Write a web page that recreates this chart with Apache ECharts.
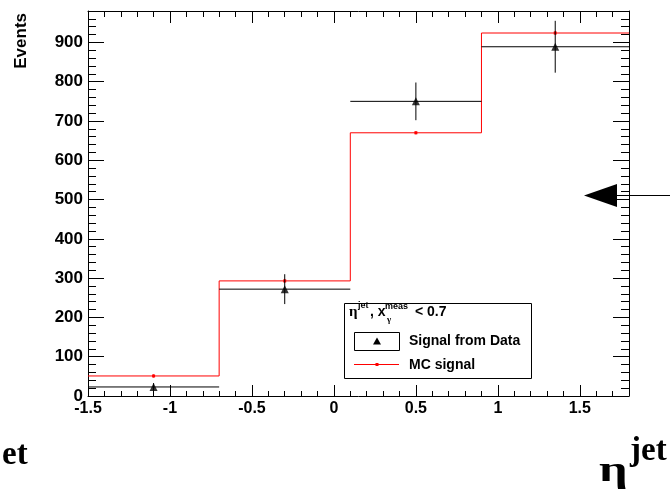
<!DOCTYPE html>
<html>
<head>
<meta charset="utf-8">
<script src="https://cdn.jsdelivr.net/npm/echarts@6/dist/echarts.min.js"></script>
<style>
html,body{margin:0;padding:0;background:#fff;}
#chart{width:670px;height:501px;}
</style>
</head>
<body>
<div id="chart"></div>
<script>
// ---- data ----
const binEdges = [-1.5, -0.7, 0.1, 0.9, 1.8];
const binCenters = [-1.1, -0.3, 0.5, 1.35];
const mcSignal = [51, 293, 670, 924];
const mcErr = [4, 5, 4, 5];
const dataSignal = [23, 272, 750, 889];
const dataErr = [10, 38, 48, 66];
const xTicks = [-1.5, -1, -0.5, 0, 0.5, 1, 1.5];
const yTicks = [0, 100, 200, 300, 400, 500, 600, 700, 800, 900];
const legendTitle = ['η', 'jet', ', x', 'meas', 'γ', '< 0.7'];
const legendLabels = ['Signal from Data', 'MC signal'];
const yTitle = 'Events';

// ---- build series data ----
const mcStep = binEdges.map((e, i) => [e, mcSignal[Math.min(i, mcSignal.length - 1)]]);
const mcPts = binCenters.map((c, i) => [c, mcSignal[i], mcErr[i]]);
const dataBars = binCenters.map((c, i) => [binEdges[i], binEdges[i + 1], dataSignal[i], dataErr[i], c]);
const dataPts = binCenters.map((c, i) => [c, dataSignal[i]]);

const chart = echarts.init(document.getElementById('chart'), null, {renderer: 'canvas'});
const labelFont = {color: '#000', fontWeight: 'bold', fontFamily: 'Liberation Sans, Arial, sans-serif'};

function axisCommon(extra) {
  return Object.assign({
    type: 'value',
    axisLine: {show: true, onZero: false, lineStyle: {color: '#000', width: 1}},
    splitLine: {show: false},
    minorSplitLine: {show: false}
  }, extra);
}

const sans = 'Liberation Sans, Arial, sans-serif';
const serif = 'Liberation Serif, Times New Roman, serif';
function txt(text, x, baseline, size, family, extra) {
  return Object.assign({
    type: 'text', z: 200,
    style: {text: text, x: x, y: baseline - 0.35 * size, font: 'bold ' + size + 'px ' + family,
      fill: '#000', textVerticalAlign: 'middle', textAlign: 'left'}
  }, extra || {});
}

const option = {
  animation: false,
  backgroundColor: '#fff',
  grid: {left: 88, right: 41, top: 11, bottom: 105, containLabel: false},
  xAxis: [
    axisCommon({
      position: 'bottom', min: -1.5, max: 1.8, interval: 0.5,
      axisTick: {show: true, inside: true, length: 11, lineStyle: {color: '#000'}},
      minorTick: {show: true, splitNumber: 5, length: 5, lineStyle: {color: '#000'}},
      axisLabel: Object.assign({fontSize: 16, margin: 5, showMaxLabel: false,
        formatter: v => (xTicks.indexOf(Math.round(v * 10) / 10) >= 0 ? String(Math.round(v * 10) / 10) : '')}, labelFont)
    }),
    axisCommon({
      position: 'top', min: -1.5, max: 1.8, interval: 0.5,
      axisTick: {show: true, inside: true, length: 12, lineStyle: {color: '#000'}},
      minorTick: {show: true, splitNumber: 5, length: 6, lineStyle: {color: '#000'}},
      axisLabel: {show: false}
    })
  ],
  yAxis: [
    axisCommon({
      position: 'left', min: 0, max: 980, interval: 100,
      axisTick: {show: true, inside: true, length: 16, lineStyle: {color: '#000'}},
      minorTick: {show: true, splitNumber: 5, length: 8, lineStyle: {color: '#000'}},
      axisLabel: Object.assign({fontSize: 17, margin: 5, showMaxLabel: false,
        formatter: v => (yTicks.indexOf(v) >= 0 ? String(v) : '')}, labelFont)
    }),
    axisCommon({
      position: 'right', min: 0, max: 980, interval: 100,
      axisTick: {show: true, inside: true, length: 16, lineStyle: {color: '#000'}},
      minorTick: {show: true, splitNumber: 5, length: 8, lineStyle: {color: '#000'}},
      axisLabel: {show: false}
    })
  ],
  series: [
    {
      type: 'line', name: legendLabels[1], data: mcStep, step: 'end', symbol: 'none',
      lineStyle: {color: '#ff0000', width: 1}, z: 3, clip: false
    },
    {
      type: 'custom', data: mcPts, z: 4,
      encode: {x: 0, y: 1},
      renderItem: function (params, api) {
        const c = api.value(0), v = api.value(1), e = api.value(2);
        const t = api.coord([c, v + e]), b = api.coord([c, v - e]), m = api.coord([c, v]);
        return {type: 'group', children: [
          {type: 'line', shape: {x1: t[0], y1: t[1], x2: b[0], y2: b[1]}, style: {stroke: '#ff0000', lineWidth: 1}},
          {type: 'rect', shape: {x: m[0] - 1.5, y: m[1] - 1.5, width: 3, height: 3}, style: {fill: '#ff0000'}}
        ]};
      }
    },
    {
      type: 'custom', name: legendLabels[0], data: dataBars, z: 5,
      encode: {x: [0, 1, 4], y: 2},
      renderItem: function (params, api) {
        const lo = api.value(0), hi = api.value(1), v = api.value(2), e = api.value(3), c = api.value(4);
        const l = api.coord([lo, v]), r = api.coord([hi, v]);
        const t = api.coord([c, v + e]), b = api.coord([c, Math.max(0, v - e)]);
        return {type: 'group', children: [
          {type: 'line', shape: {x1: l[0], y1: l[1], x2: r[0], y2: r[1]}, style: {stroke: '#000', lineWidth: 1}},
          {type: 'line', shape: {x1: t[0], y1: t[1], x2: b[0], y2: b[1]}, style: {stroke: '#000', lineWidth: 1}}
        ]};
      }
    },
    {
      type: 'scatter', data: dataPts, symbol: 'triangle', symbolSize: [8, 8],
      itemStyle: {color: '#000'}, z: 6
    }
  ],
  graphic: [
    // y-axis title
    {
      type: 'text', z: 200, x: 21, y: 13, rotation: Math.PI / 2,
      style: {text: yTitle, font: 'bold 17px ' + sans, fill: '#000', textAlign: 'right', textVerticalAlign: 'middle'}
    },
    // legend box
    {type: 'rect', z: 150, shape: {x: 344.5, y: 303.5, width: 187, height: 75}, style: {fill: '#fff', stroke: '#000', lineWidth: 1}},
    txt(legendTitle[0], 349, 317, 15, serif),
    txt(legendTitle[1], 358, 309, 9, sans),
    txt(legendTitle[2], 370, 317, 14, sans),
    txt(legendTitle[3], 385, 310, 9, sans),
    txt(legendTitle[4], 387, 323, 9, serif),
    txt(legendTitle[5], 415, 317, 14, sans),
    {type: 'rect', z: 200, shape: {x: 354.5, y: 332.5, width: 45, height: 18}, style: {fill: '#fff', stroke: '#000', lineWidth: 1}},
    {type: 'polygon', z: 201, shape: {points: [[377, 337.5], [373, 344.5], [381, 344.5]]}, style: {fill: '#000'}},
    txt(legendLabels[0], 409, 346, 14, sans),
    {type: 'line', z: 200, shape: {x1: 354, y1: 364.5, x2: 399, y2: 364.5}, style: {stroke: '#ff0000', lineWidth: 1}},
    {type: 'rect', z: 201, shape: {x: 375.5, y: 363, width: 3, height: 3}, style: {fill: '#ff0000'}},
    txt(legendLabels[1], 409, 370, 14, sans),
    // stray page fragments (neighbouring panel's axis title, this panel's axis title, arrow)
    txt('et', 2, 467, 33, serif),
    {
      type: 'text', z: 200, x: 599, y: 484, scaleX: 1.4,
      style: {text: 'η', x: 0, y: -0.35 * 36, font: 'bold 36px ' + serif, fill: '#000', textVerticalAlign: 'middle', textAlign: 'left'}
    },
    txt('jet', 630, 463, 33, serif),
    {type: 'polygon', z: 200, shape: {points: [[584, 195.5], [617, 184], [617, 207]]}, style: {fill: '#000'}},
    {type: 'line', z: 200, shape: {x1: 617, y1: 195.5, x2: 670, y2: 195.5}, style: {stroke: '#000', lineWidth: 1}}
  ]
};
chart.setOption(option);
</script>
</body>
</html>
